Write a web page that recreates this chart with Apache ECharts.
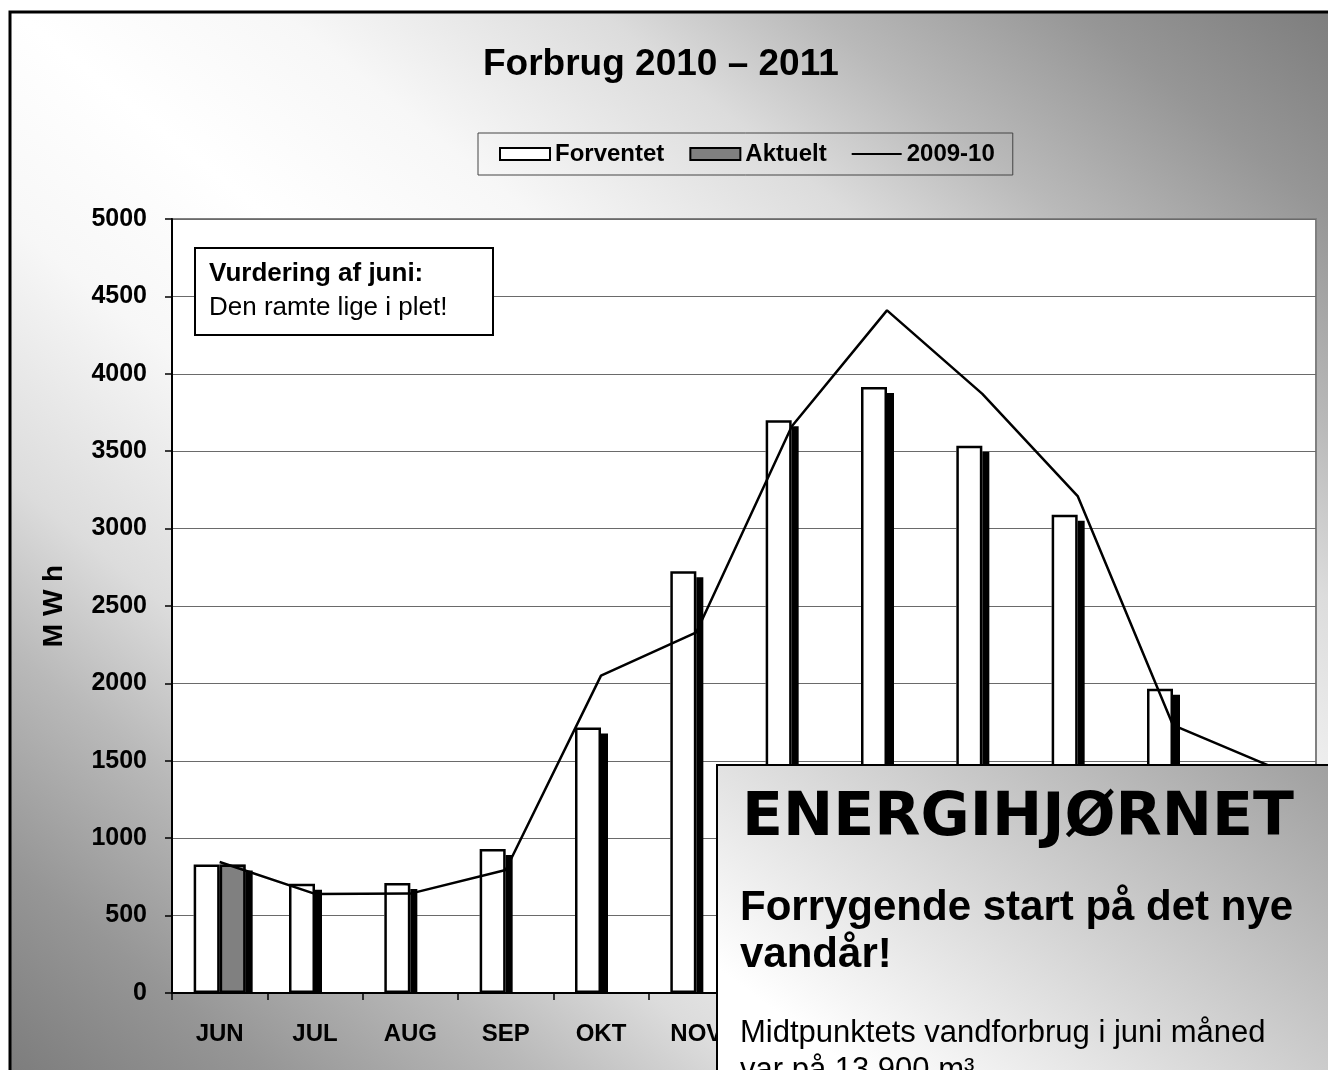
<!DOCTYPE html>
<html>
<head>
<meta charset="utf-8">
<script src="https://cdn.jsdelivr.net/npm/echarts@6/dist/echarts.min.js"></script>
<style>
  html, body { margin: 0; padding: 0; background: #ffffff; }
  #chart { width: 1328px; height: 1070px; }
</style>
</head>
<body>
<div id="chart"></div>
<script>
// ---- data ----
const months = ['JUN', 'JUL', 'AUG', 'SEP', 'OKT', 'NOV', 'DEC', 'JAN', 'FEB', 'MAR', 'APR', 'MAJ'];
const forventet = [830, 705, 710, 930, 1715, 2725, 3700, 3915, 3535, 3090, 1965, 1350];
const aktuelt = [830, null, null, null, null, null, null, null, null, null, null, null];
const forbrug0910 = [846, 640, 642, 795, 2050, 2330, 3660, 4410, 3870, 3210, 1730, 1470];
const yMin = 0, yMax = 5000, yStep = 500;
const titleText = 'Forbrug 2010 \u2013 2011';
const yAxisName = 'M W h';
const noteTitle = 'Vurdering af juni:';
const noteBody = 'Den ramte lige i plet!';
const boxHead = 'ENERGIHJ\u00D8RNET';
const boxLine1 = 'Forrygende start p\u00E5 det nye';
const boxLine2 = 'vand\u00E5r!';
const boxLine3 = 'Midtpunktets vandforbrug i juni m\u00E5ned';
const boxLine4 = 'var p\u00E5 13.900 m\u00B3';

// ---- layout ----
const W = 1328, H = 1070;
const GL = 172, GT = 219, GR = 12, GB = 77;
const FF = '"Liberation Sans", Arial, sans-serif';

const chart = echarts.init(document.getElementById('chart'), null, { renderer: 'canvas' });

// background gradient: light along the main diagonal, darker toward the other two corners
const bgGrad = new echarts.graphic.LinearGradient(141, 1184, 1187, -114, [
  { offset: 0.00, color: '#7c7c7c' },
  { offset: 0.10, color: '#969696' },
  { offset: 0.20, color: '#b9b9b9' },
  { offset: 0.28, color: '#dcdcdc' },
  { offset: 0.40, color: '#f7f7f7' },
  { offset: 0.50, color: '#ffffff' },
  { offset: 0.60, color: '#f7f7f7' },
  { offset: 0.72, color: '#dcdcdc' },
  { offset: 0.80, color: '#b9b9b9' },
  { offset: 0.90, color: '#969696' },
  { offset: 1.00, color: '#7c7c7c' }
], true);

const boxGrad = new echarts.graphic.LinearGradient(760, 1000, 1090, 560, [
  { offset: 0, color: '#ffffff' },
  { offset: 1, color: '#9c9c9c' }
], true);

// filled bars carry the drop shadow; outline bars (same layout, hidden twin axis) carry the border
const fillStyle = (c) => ({ color: c, borderWidth: 0, shadowColor: '#000', shadowBlur: 0, shadowOffsetX: 7, shadowOffsetY: 6 });
const outlineStyle = { color: 'rgba(0,0,0,0)', borderColor: '#000', borderWidth: 2.5 };

const option = {
  animation: false,
  title: {
    text: titleText,
    left: 478,
    top: 41,
    textStyle: { fontFamily: FF, fontSize: 37, fontWeight: 'bold', color: '#000' }
  },
  legend: {
    left: 478,
    top: 133,
    padding: [9, 18, 9, 21],
    itemGap: 25,
    itemWidth: 50,
    itemHeight: 12,
    borderColor: '#444',
    borderWidth: 1,
    symbolKeepAspect: true,
    textStyle: { fontFamily: FF, fontSize: 24, fontWeight: 'bold', color: '#000' },
    itemStyle: { borderColor: '#000', borderWidth: 2, shadowColor: 'rgba(0,0,0,0)', shadowOffsetX: 0, shadowOffsetY: 0 },
    data: [
      { name: 'Forventet', icon: 'rect' },
      { name: 'Aktuelt', icon: 'rect' },
      { name: '2009-10', icon: 'path://M0,0L100,0L100,4L0,4Z', itemStyle: { color: '#000', borderWidth: 0 } }
    ]
  },
  grid: {
    left: GL, top: GT, right: GR, bottom: GB,
    show: true,
    backgroundColor: '#ffffff',
    borderColor: '#808080',
    borderWidth: 2
  },
  xAxis: [
    {
      type: 'category',
      data: months,
      z: 5,
      axisLine: { lineStyle: { color: '#000', width: 2 } },
      axisTick: { show: true, inside: false, length: 7, alignWithLabel: false, lineStyle: { color: '#000', width: 1.5 } },
      axisLabel: { fontFamily: FF, fontSize: 24, fontWeight: 'bold', color: '#000', margin: 29, interval: 0 },
      splitLine: { show: false }
    },
    {
      type: 'category',
      data: months,
      show: false
    }
  ],
  yAxis: {
    type: 'value',
    min: yMin, max: yMax, interval: yStep,
    name: yAxisName,
    nameLocation: 'middle',
    nameRotate: 90,
    nameGap: 104,
    nameTextStyle: { fontFamily: FF, fontSize: 28, fontWeight: 'bold', color: '#000' },
    axisLine: { show: true, lineStyle: { color: '#000', width: 2 } },
    axisTick: { show: true, inside: false, length: 7, lineStyle: { color: '#000', width: 1.5 } },
    axisLabel: { fontFamily: FF, fontSize: 25, fontWeight: 'bold', color: '#000', margin: 25,
                 formatter: (v) => String(v) },
    splitLine: { show: true, lineStyle: { color: '#6a6a6a', width: 1 } }
  },
  series: [
    {
      name: 'Forventet', type: 'bar', data: forventet, xAxisIndex: 0,
      barWidth: 26, barGap: '0%',
      itemStyle: fillStyle('#ffffff')
    },
    {
      name: 'Aktuelt', type: 'bar', data: aktuelt, xAxisIndex: 0,
      barWidth: 26, barGap: '0%',
      itemStyle: fillStyle('#808080')
    },
    {
      name: 'Forventet', type: 'bar', data: forventet, xAxisIndex: 1,
      barWidth: 26, barGap: '0%',
      itemStyle: outlineStyle
    },
    {
      name: 'Aktuelt', type: 'bar', data: aktuelt, xAxisIndex: 1,
      barWidth: 26, barGap: '0%',
      itemStyle: outlineStyle
    },
    {
      name: '2009-10', type: 'line', data: forbrug0910, xAxisIndex: 0,
      symbol: 'none', showSymbol: false, z: 4,
      itemStyle: { color: '#000' },
      lineStyle: { color: '#000', width: 2.5 }
    }
  ],
  graphic: [
    {
      type: 'rect', z: -10, silent: true,
      shape: { x: 10, y: 12, width: 1400, height: 1150 },
      style: { fill: bgGrad, stroke: '#000', lineWidth: 3 }
    },
    {
      // hides the bar shadows below the x axis (same fill as background)
      type: 'rect', z: 3, silent: true,
      shape: { x: GL + 1, y: H - GB + 1, width: W - GR - GL - 1, height: 8 },
      style: { fill: bgGrad }
    },
    { type: 'rect', z: 10, silent: true, shape: { x: 195, y: 248, width: 298, height: 87 },
      style: { fill: '#fff', stroke: '#000', lineWidth: 2 } },
    { type: 'text', z: 11, silent: true, style: { text: noteTitle, x: 209, y: 274, fill: '#000',
      font: 'bold 26px ' + FF, verticalAlign: 'middle', align: 'left' } },
    { type: 'text', z: 11, silent: true, style: { text: noteBody, x: 209, y: 308, fill: '#000',
      font: '26px ' + FF, verticalAlign: 'middle', align: 'left' } },

    { type: 'rect', z: 20, silent: true, shape: { x: 717, y: 765, width: 700, height: 400 },
      style: { fill: boxGrad, stroke: '#000', lineWidth: 2 } },
    { type: 'text', z: 21, silent: true, style: { text: boxHead, x: 742, y: 819, fill: '#000',
      font: 'bold 60px "DejaVu Sans", sans-serif', verticalAlign: 'middle', align: 'left' } },
    { type: 'text', z: 21, silent: true, style: { text: boxLine1, x: 740, y: 908, fill: '#000',
      font: 'bold 42px ' + FF, verticalAlign: 'middle', align: 'left' } },
    { type: 'text', z: 21, silent: true, style: { text: boxLine2, x: 740, y: 955, fill: '#000',
      font: 'bold 42px ' + FF, verticalAlign: 'middle', align: 'left' } },
    { type: 'text', z: 21, silent: true, style: { text: boxLine3, x: 740, y: 1033, fill: '#000',
      font: '31px ' + FF, verticalAlign: 'middle', align: 'left' } },
    { type: 'text', z: 21, silent: true, style: { text: boxLine4, x: 740, y: 1070, fill: '#000',
      font: '31px ' + FF, verticalAlign: 'middle', align: 'left' } }
  ]
};

chart.setOption(option);
</script>
</body>
</html>
